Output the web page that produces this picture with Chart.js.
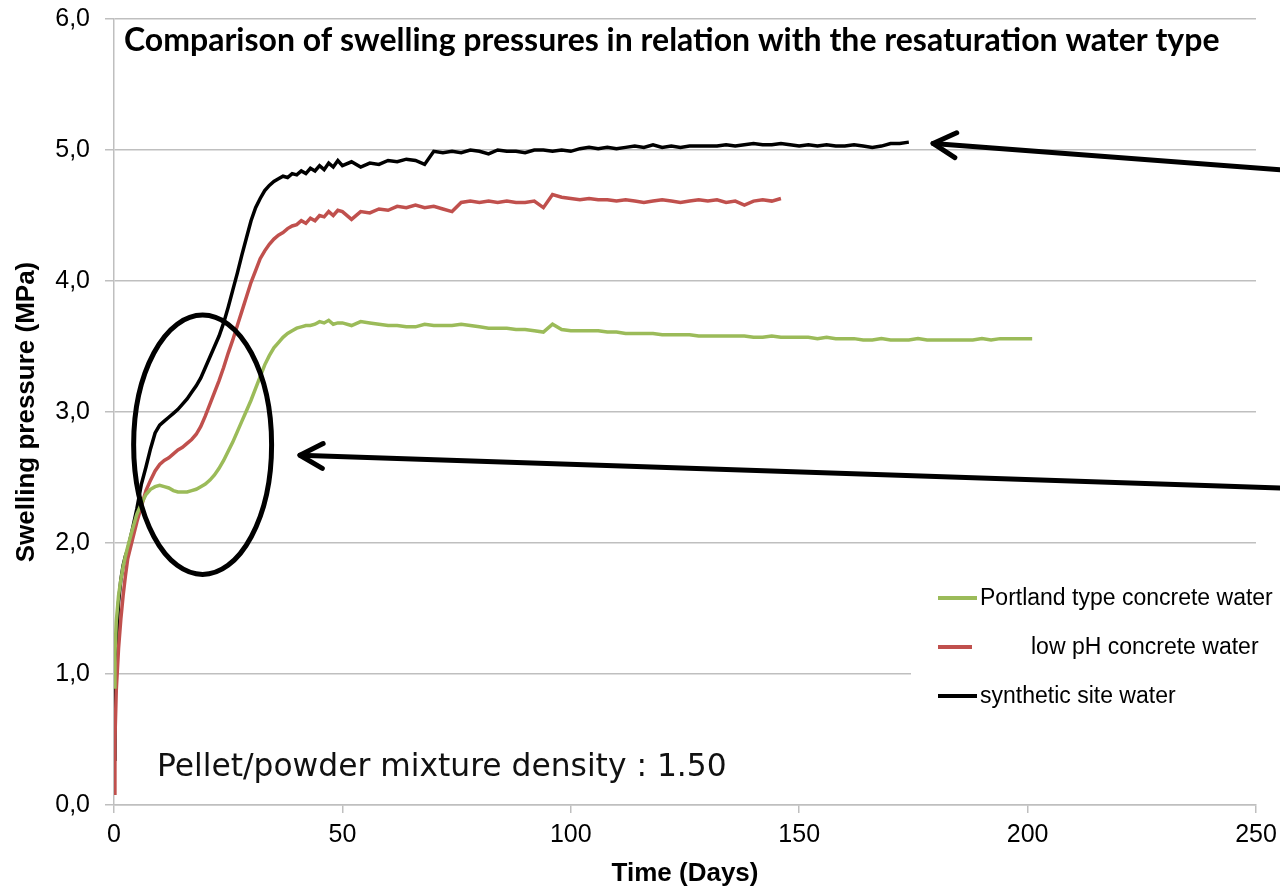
<!DOCTYPE html>
<html lang="en">
<head>
  <meta charset="UTF-8" />
  <title>Swelling pressures</title>
  <script src="https://cdn.jsdelivr.net/npm/chart.js"></script>
  <style>
    body {
      margin: 0;
      background: #fff;
    }
    canvas {
      display: block;
    }
  </style>
</head>
<body>

<canvas id="graficoPresion" width="1280" height="889"></canvas>

<script>
  // Tiempo (días) compartido por las tres series
  const days = [
    0, 0.2, 0.5, 1, 1.5, 2, 2.5, 3,
    4, 5, 6, 7, 8, 9, 10, 11, 12, 13,
    14, 15, 16, 17, 18, 19, 20, 21, 22, 23,
    24, 25, 26, 27, 28, 29, 30, 31, 32, 33,
    34, 35, 36, 37, 38, 39, 40, 41, 42, 43,
    44, 45, 46, 47, 48, 49, 50,
    52, 54, 56, 58, 60, 62, 64, 66, 68, 70,
    72, 74, 76, 78, 80, 82, 84, 86, 88, 90,
    92, 94, 96, 98, 100, 102, 104, 106, 108, 110,
    112, 114, 116, 118, 120, 122, 124, 126, 128, 130,
    132, 134, 136, 138, 140, 142, 144, 146, 148, 150,
    152, 154, 156, 158, 160, 162, 164, 166, 168, 170,
    172, 174, 176, 178, 180, 182, 184, 186, 188, 190,
    192, 194, 196, 198, 200,
    201
  ];

  const seriesLabels = ['Portland type concrete water', 'low pH concrete water', 'synthetic site water'];

  // Portland type concrete water (MPa)
  const portlandValues = [
    0.9, 1.15, 1.4, 1.6, 1.72, 1.82, 1.9, 1.97,
    2.1, 2.22, 2.3, 2.37, 2.41, 2.43, 2.44, 2.43, 2.42, 2.4,
    2.39, 2.39, 2.39, 2.4, 2.41, 2.43, 2.45, 2.48, 2.52, 2.57,
    2.63, 2.7, 2.77, 2.85, 2.93, 3.01, 3.09, 3.18, 3.27, 3.36,
    3.43, 3.49, 3.53, 3.57, 3.6, 3.62, 3.64, 3.65, 3.66, 3.66,
    3.67, 3.69, 3.68, 3.7, 3.67, 3.68, 3.68,
    3.66, 3.69, 3.68, 3.67, 3.66, 3.66, 3.65, 3.65, 3.67, 3.66,
    3.66, 3.66, 3.67, 3.66, 3.65, 3.64, 3.64, 3.64, 3.63, 3.63,
    3.62, 3.61, 3.67, 3.63, 3.62, 3.62, 3.62, 3.62, 3.61, 3.61,
    3.6, 3.6, 3.6, 3.6, 3.59, 3.59, 3.59, 3.59, 3.58, 3.58,
    3.58, 3.58, 3.58, 3.58, 3.57, 3.57, 3.58, 3.57, 3.57, 3.57,
    3.57, 3.56, 3.57, 3.56, 3.56, 3.56, 3.55, 3.55, 3.56, 3.55,
    3.55, 3.55, 3.56, 3.55, 3.55, 3.55, 3.55, 3.55, 3.55, 3.56,
    3.55, 3.56, 3.56, 3.56, 3.56,
    3.56
  ];

  // low pH concrete water (MPa)
  const lowPhValues = [
    0.09, 0.5, 0.88, 1.2, 1.42, 1.6, 1.75, 1.88,
    2.02, 2.16, 2.28, 2.4, 2.48, 2.55, 2.6, 2.63, 2.65, 2.68,
    2.71, 2.73, 2.76, 2.79, 2.83, 2.89, 2.97, 3.06, 3.15, 3.24,
    3.34, 3.45, 3.55, 3.66, 3.77, 3.88, 3.99, 4.08, 4.17, 4.23,
    4.28, 4.32, 4.35, 4.37, 4.4, 4.42, 4.43, 4.46, 4.44, 4.48,
    4.46, 4.5, 4.49, 4.53, 4.5, 4.54, 4.53,
    4.47, 4.53, 4.52, 4.55, 4.54, 4.57, 4.56, 4.58, 4.56, 4.57,
    4.55, 4.53, 4.6, 4.61, 4.6, 4.61, 4.6, 4.61, 4.6, 4.6,
    4.61, 4.56, 4.66, 4.64, 4.63, 4.62, 4.63, 4.62, 4.62, 4.61,
    4.62, 4.61, 4.6, 4.61, 4.62, 4.61, 4.6, 4.61, 4.62, 4.61,
    4.62, 4.6, 4.61, 4.58, 4.61, 4.62, 4.61, 4.63
  ];

  // synthetic site water (MPa)
  const siteValues = [
    0.35, 0.85, 1.2, 1.55, 1.72, 1.83, 1.9, 1.95,
    2.1, 2.26, 2.45, 2.58, 2.72, 2.84, 2.9, 2.93, 2.96, 2.99,
    3.02, 3.06, 3.1, 3.15, 3.2, 3.26, 3.34, 3.42, 3.5, 3.58,
    3.68, 3.8, 3.93, 4.06, 4.2, 4.33, 4.46, 4.56, 4.63, 4.69,
    4.73, 4.76, 4.78, 4.8, 4.79, 4.82, 4.81, 4.84, 4.82, 4.86,
    4.84, 4.88, 4.85, 4.9, 4.87, 4.92, 4.88,
    4.91, 4.87, 4.9, 4.89, 4.92, 4.91, 4.93, 4.92, 4.89, 4.99,
    4.98, 4.99, 4.98, 5.0, 4.99, 4.97, 5.0, 4.99, 4.99, 4.98,
    5.0, 5.0, 4.99, 5.0, 4.99, 5.01, 5.02, 5.01, 5.02, 5.01,
    5.02, 5.03, 5.02, 5.04, 5.02, 5.03, 5.02, 5.03, 5.03, 5.03,
    5.03, 5.04, 5.03, 5.04, 5.05, 5.04, 5.04, 5.05, 5.04, 5.03,
    5.04, 5.03, 5.04, 5.03, 5.03, 5.04, 5.03, 5.02, 5.03, 5.05,
    5.05, 5.06
  ];

  const yTicks = [0, 1, 2, 3, 4, 5, 6];
  const xTicks = [0, 50, 100, 150, 200, 250];

  const colores = ['#9BBB59', '#C0504D', '#000000'];

  // Anotaciones en coordenadas de datos (días, MPa)
  const elipse = { cx: 19.4, cy: 2.75, rx: 15.1, ry: 0.99 };
  const flechas = [
    { from: [255.3, 4.85], to: [179.3, 5.05] },
    { from: [255.3, 2.42], to: [40.7, 2.67] }
  ];

  const toPoints = values => values.map((v, i) => ({ x: days[i], y: v }));

  // Título, texto de densidad, elipse, flechas y leyenda
  const dibujoExtra = {
    id: 'dibujoExtra',
    afterDraw(chart) {
      const ctx = chart.ctx;
      const xs = chart.scales.x;
      const ys = chart.scales.y;
      ctx.save();

      // título
      ctx.fillStyle = '#000';
      ctx.textBaseline = 'alphabetic';
      ctx.textAlign = 'left';
      const titulo = 'Comparison of swelling pressures in relation with the resaturation water type';
      ctx.font = 'bold 100px Lato';
      let size = 100 * 1096 / ctx.measureText(titulo).width;
      ctx.font = `bold ${size}px Lato`;
      ctx.fillText(titulo, 124, 51);

      // texto de densidad
      const densidad = 'Pellet/powder mixture density : 1.50';
      ctx.font = '100px "DejaVu Sans"';
      size = 100 * 570 / ctx.measureText(densidad).width;
      ctx.font = `${size}px "DejaVu Sans"`;
      ctx.fillStyle = '#111';
      ctx.fillText(densidad, 157, 776);

      // elipse
      ctx.strokeStyle = '#000';
      ctx.lineWidth = 5;
      ctx.beginPath();
      ctx.ellipse(
        xs.getPixelForValue(elipse.cx), ys.getPixelForValue(elipse.cy),
        xs.getPixelForValue(elipse.rx) - xs.getPixelForValue(0),
        ys.getPixelForValue(0) - ys.getPixelForValue(elipse.ry),
        0, 0, Math.PI * 2
      );
      ctx.stroke();

      // flechas
      ctx.lineCap = 'round';
      ctx.lineJoin = 'round';
      flechas.forEach(f => {
        const x1 = xs.getPixelForValue(f.from[0]), y1 = ys.getPixelForValue(f.from[1]);
        const x2 = xs.getPixelForValue(f.to[0]), y2 = ys.getPixelForValue(f.to[1]);
        const ang = Math.atan2(y1 - y2, x1 - x2);
        ctx.beginPath();
        ctx.moveTo(x1, y1);
        ctx.lineTo(x2, y2);
        ctx.stroke();
        ctx.beginPath();
        ctx.moveTo(x2 + 26 * Math.cos(ang - 0.5), y2 + 26 * Math.sin(ang - 0.5));
        ctx.lineTo(x2, y2);
        ctx.lineTo(x2 + 26 * Math.cos(ang + 0.5), y2 + 26 * Math.sin(ang + 0.5));
        ctx.stroke();
      });

      // leyenda
      ctx.fillStyle = '#fff';
      ctx.fillRect(911, 575, 369, 142);
      const filas = [598, 647, 696];
      const finLinea = [977, 972, 977];
      const inicioTexto = [980, 1031, 980];
      ctx.font = '23px "Liberation Sans"';
      ctx.textBaseline = 'middle';
      ctx.lineCap = 'butt';
      ctx.lineWidth = 4;
      chart.data.datasets.forEach((ds, i) => {
        ctx.strokeStyle = ds.borderColor;
        ctx.beginPath();
        ctx.moveTo(938, filas[i]);
        ctx.lineTo(finLinea[i], filas[i]);
        ctx.stroke();
        ctx.fillStyle = '#000';
        ctx.fillText(ds.label, inicioTexto[i], filas[i] + 1);
      });

      ctx.restore();
    }
  };

  new Chart(document.getElementById('graficoPresion').getContext('2d'), {
    type: 'line',
    data: {
      datasets: [
        {
          label: seriesLabels[0],
          data: toPoints(portlandValues),
          borderColor: colores[0],
          borderWidth: 3.5,
          pointRadius: 0,
          tension: 0
        },
        {
          label: seriesLabels[1],
          data: toPoints(lowPhValues),
          borderColor: colores[1],
          borderWidth: 3.5,
          pointRadius: 0,
          tension: 0
        },
        {
          label: seriesLabels[2],
          data: toPoints(siteValues),
          borderColor: colores[2],
          borderWidth: 3.5,
          pointRadius: 0,
          tension: 0
        }
      ]
    },
    options: {
      responsive: false,
      animation: false,
      layout: { padding: { top: 19, right: 24, left: 0, bottom: 0 } },
      plugins: {
        legend: { display: false },
        tooltip: { enabled: false }
      },
      scales: {
        x: {
          type: 'linear',
          min: xTicks[0],
          max: xTicks[xTicks.length - 1],
          afterBuildTicks: scale => { scale.ticks = xTicks.map(v => ({ value: v })); },
          afterFit: scale => {
            scale.height = 84;
            scale.paddingLeft = 0;
            scale.paddingRight = 0;
          },
          ticks: {
            color: '#000',
            padding: 7,
            maxRotation: 0,
            font: { family: 'Liberation Sans', size: 25 }
          },
          grid: {
            drawOnChartArea: false,
            drawTicks: true,
            tickLength: 8,
            color: '#BFBFBF',
            lineWidth: 1.5
          },
          border: { color: '#BFBFBF', width: 1.5 },
          title: {
            display: true,
            text: 'Time (Days)',
            color: '#000',
            font: { family: 'Liberation Sans', size: 26, weight: 'bold' },
            padding: { top: 0, bottom: 0 }
          }
        },
        y: {
          min: yTicks[0],
          max: yTicks[yTicks.length - 1],
          afterBuildTicks: scale => { scale.ticks = yTicks.map(v => ({ value: v })); },
          afterFit: scale => {
            scale.width = 114;
            scale.paddingTop = 0;
            scale.paddingBottom = 0;
          },
          ticks: {
            color: '#000',
            padding: 15,
            font: { family: 'Liberation Sans', size: 25 },
            callback: v => v.toFixed(1).replace('.', ',')
          },
          grid: {
            color: '#BFBFBF',
            lineWidth: 1.5,
            tickLength: 9
          },
          border: { color: '#BFBFBF', width: 1.5 },
          title: {
            display: true,
            text: 'Swelling pressure (MPa)',
            color: '#000',
            font: { family: 'Liberation Sans', size: 26, weight: 'bold' },
            padding: { top: 11, bottom: 0 }
          }
        }
      }
    },
    plugins: [dibujoExtra]
  });
</script>

</body>
</html>
